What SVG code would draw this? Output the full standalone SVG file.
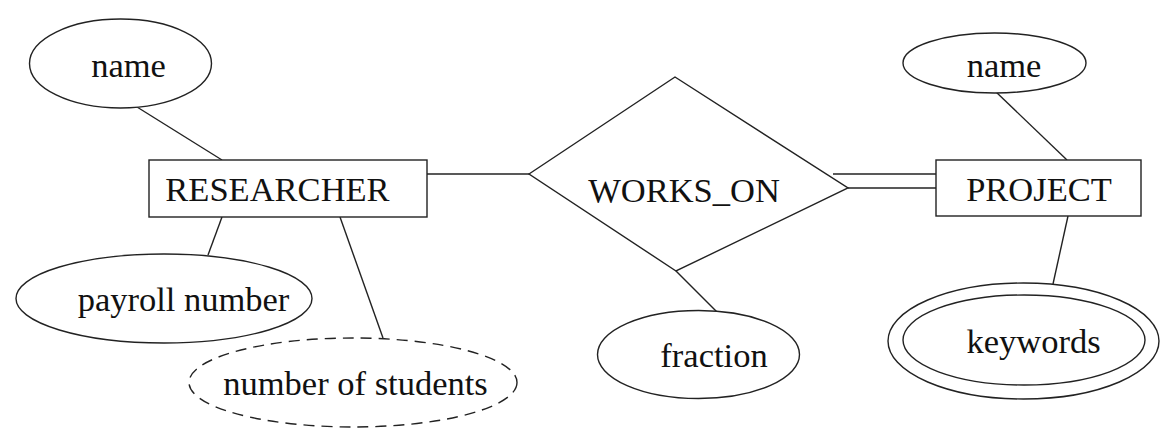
<svg xmlns="http://www.w3.org/2000/svg" width="1172" height="440" viewBox="0 0 1172 440">
<style>
.s{fill:#fff;stroke:#222;stroke-width:1.4}
.c{fill:none;stroke:#222;stroke-width:1.4}
.d{stroke-dasharray:11 7}
text{font-family:"Liberation Serif","Times New Roman",serif;font-size:34.5px;fill:#111;text-anchor:middle}
</style>
<rect width="1172" height="440" fill="#fff"/>
<g id="connectors">
<line class="c" x1="137" y1="107" x2="222" y2="160"/>
<line class="c" x1="222" y1="217" x2="208" y2="255"/>
<line class="c" x1="340" y1="217" x2="383" y2="338"/>
<line class="c" x1="427" y1="174" x2="529" y2="174"/>
<line class="c" x1="833" y1="174" x2="936" y2="174"/>
<line class="c" x1="848" y1="188" x2="936" y2="188"/>
<line class="c" x1="676" y1="271" x2="717" y2="312"/>
<line class="c" x1="995" y1="91" x2="1067" y2="160"/>
<line class="c" x1="1068" y1="216" x2="1053" y2="284"/>
</g>
<g id="researcher">
<rect class="s" x="149" y="160" width="278" height="57"/>
<text x="277.5" y="201">RESEARCHER</text>
</g>
<g id="works_on">
<polygon class="s" points="529,174 675,77 848,188 676,271"/>
<text x="684" y="202">WORKS_ON</text>
</g>
<g id="project">
<rect class="s" x="936" y="160" width="205" height="56"/>
<text x="1039" y="201">PROJECT</text>
</g>
<g id="researcher_name">
<ellipse class="s" cx="120.5" cy="63.5" rx="91" ry="44.5"/>
<text x="128.5" y="77">name</text>
</g>
<g id="payroll_number">
<ellipse class="s" cx="164" cy="298.5" rx="148" ry="44.5"/>
<text x="183.5" y="311">payroll number</text>
</g>
<g id="number_of_students">
<ellipse class="s d" cx="353" cy="382.5" rx="164" ry="44.5"/>
<text x="355.5" y="395">number of students</text>
</g>
<g id="fraction">
<ellipse class="s" cx="698.5" cy="354.5" rx="101" ry="44"/>
<text x="714" y="367">fraction</text>
</g>
<g id="project_name">
<ellipse class="s" cx="994.5" cy="63" rx="91.5" ry="30"/>
<text x="1004" y="77">name</text>
</g>
<g id="keywords">
<ellipse class="s" cx="1023.5" cy="341" rx="135.5" ry="58"/>
<ellipse class="s" cx="1024" cy="340" rx="121" ry="45"/>
<text x="1033.5" y="353">keywords</text>
</g>
</svg>
